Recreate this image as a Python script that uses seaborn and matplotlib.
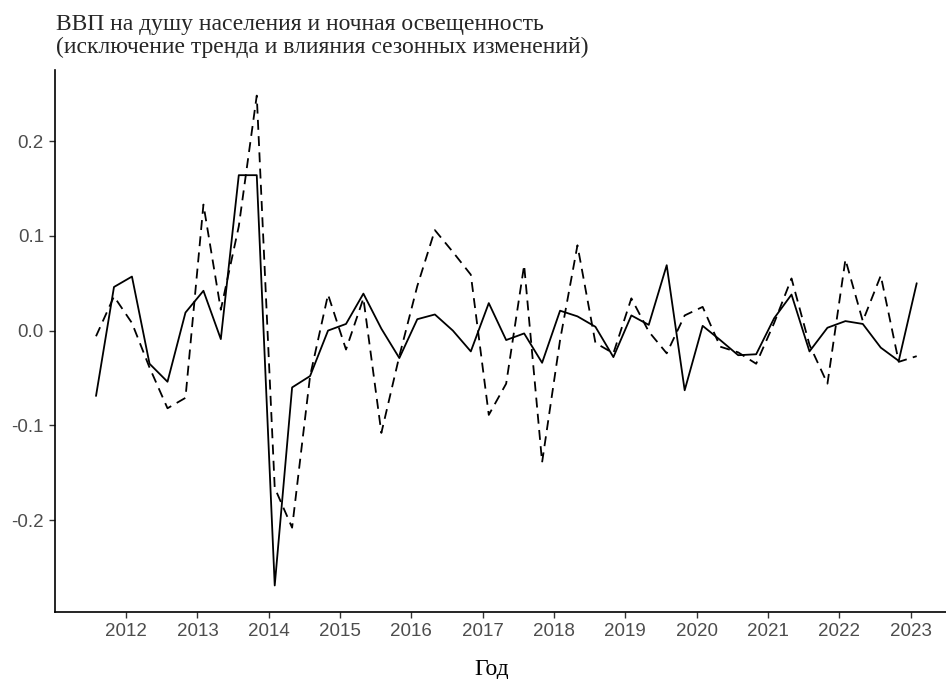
import pandas as pd
import matplotlib
matplotlib.use("Agg")
import matplotlib.pyplot as plt
import matplotlib.dates as mdates
import seaborn as sns

# Quarterly observations, Aug 2011 - Feb 2023 (detrended, seasonally adjusted)
quarters = pd.date_range("2011-08-01", periods=47, freq="3MS")

gdp = [-0.069, 0.046, 0.057, -0.035, -0.054, 0.019, 0.042, -0.009,
       0.164, 0.164, -0.269, -0.060, -0.048, 0.000, 0.007, 0.039,
       0.002, -0.029, 0.012, 0.017, 0.000, -0.022, 0.029, -0.010,
       -0.003, -0.034, 0.021, 0.015, 0.004, -0.028, 0.016, 0.006,
       0.069, -0.063, 0.005, -0.010, -0.026, -0.025, 0.013, 0.038,
       -0.022, 0.003, 0.010, 0.007, -0.018, -0.032, 0.050]

lights = [-0.006, 0.036, 0.008, -0.039, -0.082, -0.071, 0.133, 0.022,
          0.110, 0.248, -0.166, -0.208, -0.048, 0.038, -0.020, 0.034,
          -0.108, -0.027, 0.047, 0.106, 0.083, 0.059, -0.089, -0.056,
          0.069, -0.139, -0.010, 0.090, -0.013, -0.024, 0.034, -0.001,
          -0.024, 0.016, 0.025, -0.017, -0.023, -0.035, 0.008, 0.055,
          -0.015, -0.056, 0.075, 0.010, 0.058, -0.033, -0.027]

series_names = ["ВВП на душу населения", "Ночная освещенность"]
y_ticks = [-0.2, -0.1, 0.0, 0.1, 0.2]

title = "ВВП на душу населения и ночная освещенность\n(исключение тренда и влияния сезонных изменений)"
x_label = "Год"

# Long format for seaborn
df = pd.DataFrame({
    "date": list(quarters) * 2,
    "value": gdp + lights,
    "series": [series_names[0]] * len(gdp) + [series_names[1]] * len(lights),
})

sns.set_style("ticks")
plt.rcParams["font.family"] = ["Liberation Sans", "DejaVu Sans"]
plt.rcParams["axes.unicode_minus"] = False

fig = plt.figure(figsize=(9.46, 6.79), dpi=100)
ax = fig.add_axes([55 / 946, 67 / 679, 1 - 55 / 946, 542 / 679])

sns.lineplot(data=df, x="date", y="value", style="series", color="black",
             dashes={series_names[0]: "", series_names[1]: (5.5, 3.5)},
             linewidth=1.3, legend=False, ax=ax)

ax.set_xlim(pd.Timestamp("2011-01-03"), pd.Timestamp("2023-07-01"))
ax.set_ylim(-0.297, 0.275)
ax.xaxis.set_major_locator(mdates.YearLocator())
ax.xaxis.set_major_formatter(mdates.DateFormatter("%Y"))
ax.set_yticks(y_ticks)
ax.set_yticklabels([f"{v:.1f}" for v in y_ticks])

sns.despine(ax=ax)
for side in ["left", "bottom"]:
    ax.spines[side].set_linewidth(1.2)
    ax.spines[side].set_color("black")
ax.tick_params(length=4, width=1, color="#333333", labelcolor="#4d4d4d",
               labelsize=13.5, pad=4)

ax.set_ylabel("")
ax.set_xlabel(x_label, family=["Liberation Serif"], fontsize=17, color="black")
ax.xaxis.set_label_coords(0.4905, -0.086)
ax.xaxis.label.set_verticalalignment("top")

fig.text(56 / 946, 1 - 14 / 679, title, ha="left", va="top",
         family=["Liberation Serif"], fontsize=17, linespacing=1.12)

fig.savefig("out.png", dpi=100)
